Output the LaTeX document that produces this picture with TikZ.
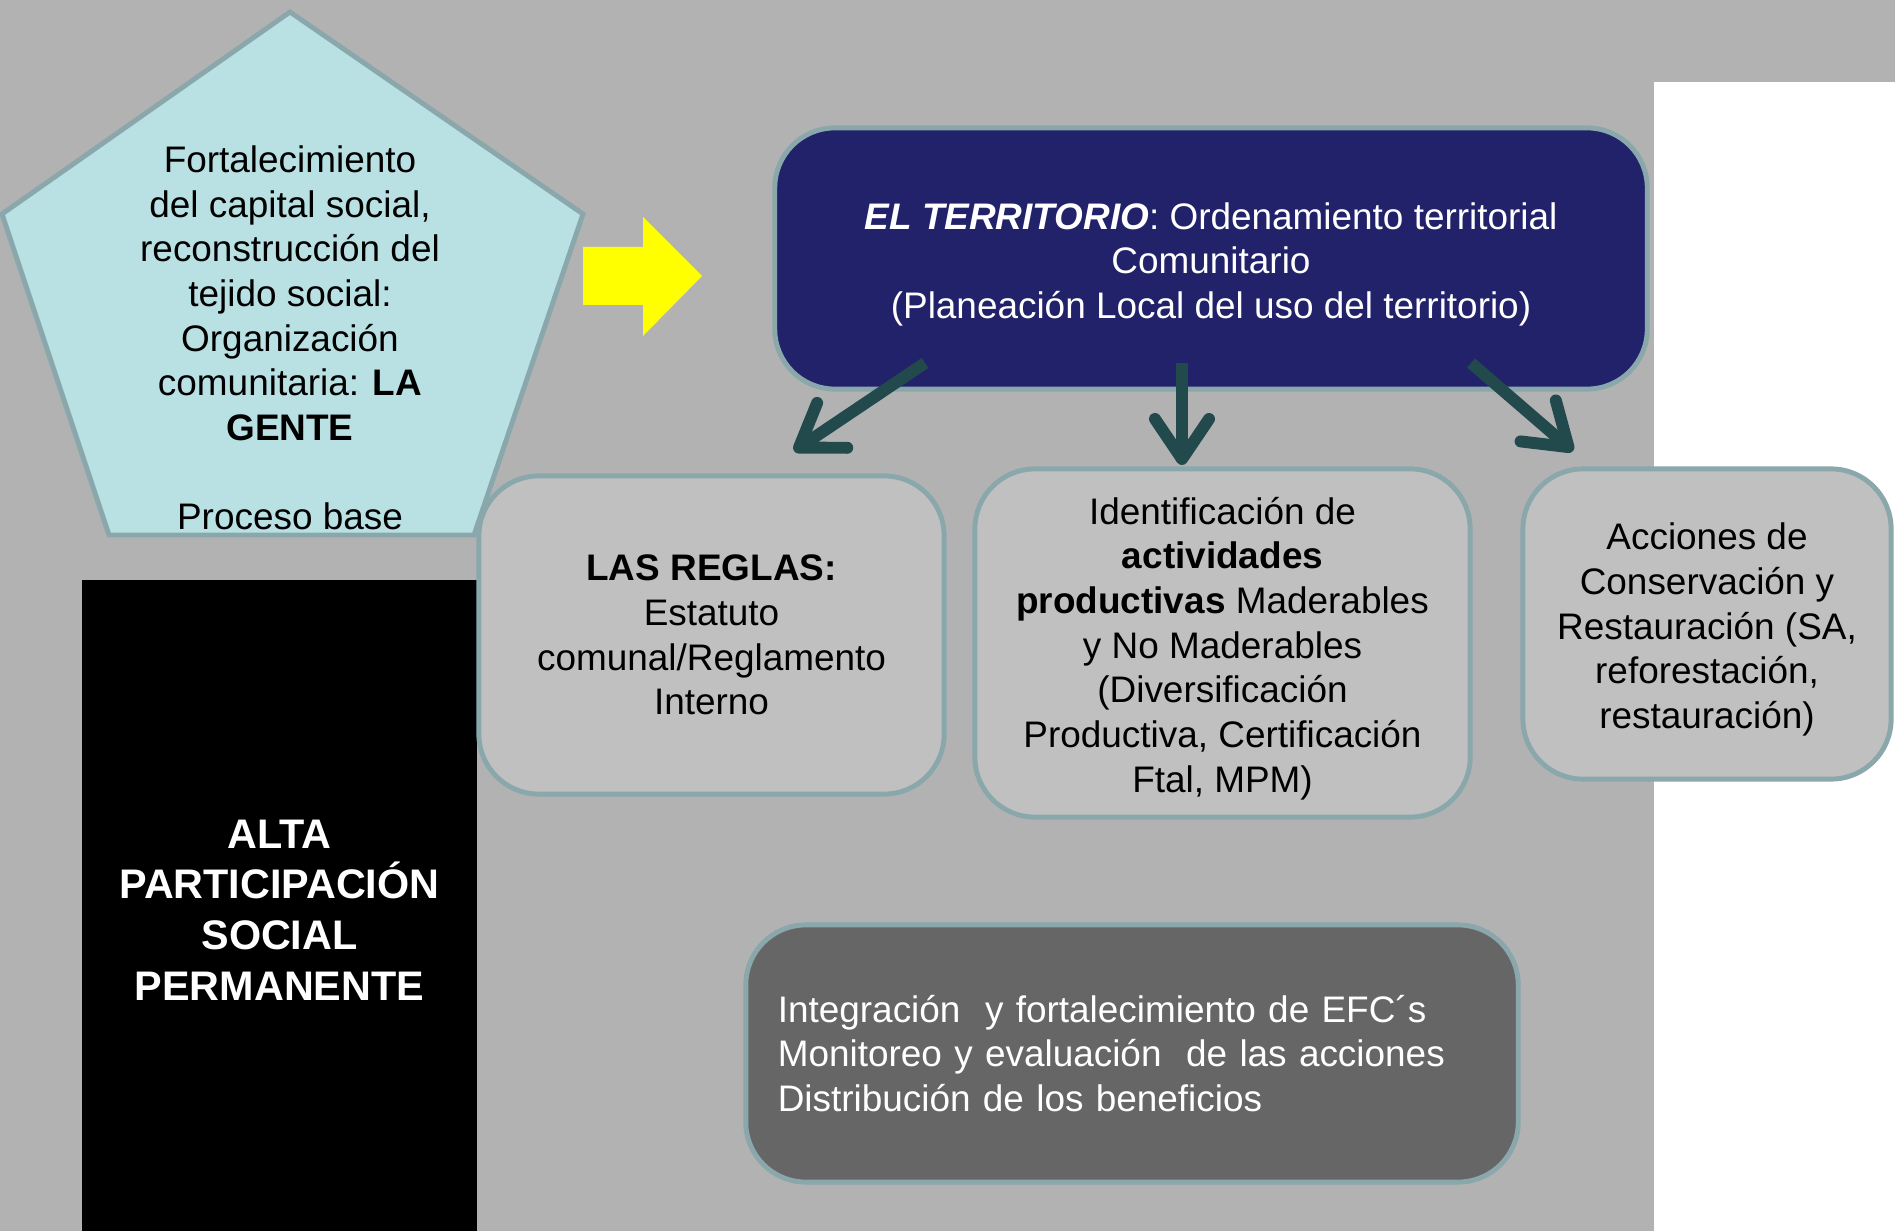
\documentclass[tikz,border=0pt]{standalone}
\usepackage{fontspec}
\setmainfont{Liberation Sans}
\usetikzlibrary{arrows.meta, positioning}
\definecolor{fondo}{HTML}{B2B2B2}
\definecolor{borde}{HTML}{8AA8AC}
\definecolor{celeste}{HTML}{B9E0E3}
\definecolor{marino}{HTML}{22226A}
\definecolor{cajagris}{HTML}{C0C0C0}
\definecolor{oscuro}{HTML}{666666}
\definecolor{flecha}{HTML}{224A4C}
\definecolor{amarillo}{HTML}{FFFF00}

\newcommand{\texto}{\fontsize{10.5}{12.7}\selectfont}
\newcommand{\arriba}{\rule{0pt}{10.8pt}}
\tikzset{
  caja/.style={draw=borde, line width=1.4pt, rounded corners=0.6cm, align=center, font=\texto},
  bajada/.style={draw=flecha, line width=3.4pt, -{Straight Barb[length=4mm, width=5.4mm, round]}}
}

\begin{document}
\begin{tikzpicture}[x=0.01cm, y=-0.01cm]
    % Fondo
    \useasboundingbox (0,0) rectangle (1895,1231);
    \fill[fondo] (0,0) rectangle (1895,1231);
    \fill[white] (1654,82) rectangle (1895,1231);
    % Pentagono : la gente
    \draw[fill=celeste, draw=borde, line width=1.4pt, line join=miter]
      (290,12) -- (583,214) -- (474,535) -- (109,535) -- (2,214) -- cycle;
    \node[align=center, font=\texto] (gente) at (290,338) {Fortalecimiento\\del capital social,\\reconstrucción del\\tejido social:\\Organización\\comunitaria: \textbf{LA}\\\textbf{GENTE}\\[12.7pt]Proceso base};
    % Flecha amarilla
    \fill[amarillo] (583,247) -- (643,247) -- (643,217) -- (702,276) -- (643,336) -- (643,305) -- (583,305) -- cycle;
    % Columna negra
    \node[fill=black, minimum width=3.95cm, minimum height=6.6cm, align=center, text=white,
      font=\fontsize{11.75}{14.45}\selectfont\bfseries] (participa) at (279.5,910)
      {ALTA\\PARTICIPACIÓN\\SOCIAL\\PERMANENTE};
    % Cajas
    \node[caja, fill=marino, text=white, minimum width=8.72cm, minimum height=2.61cm] (territorio) at (1211,258.5)
      {\arriba\textbf{\textit{EL TERRITORIO}}: Ordenamiento territorial\\Comunitario\\(Planeación Local del uso del territorio)};
    \node[caja, fill=cajagris, minimum width=4.65cm, minimum height=3.18cm] (reglas) at (711.5,635)
      {\textbf{LAS REGLAS:}\\Estatuto\\comunal/Reglamento\\Interno};
    \node[caja, fill=cajagris, minimum width=4.95cm, minimum height=3.48cm] (actividades) at (1222.5,643)
      {\arriba Identificación de\\\textbf{actividades}\\\textbf{productivas} Maderables\\y No Maderables\\(Diversificación\\Productiva, Certificación\\Ftal, MPM)};
    \node[caja, fill=cajagris, minimum width=3.68cm, minimum height=3.1cm] (acciones) at (1707,624)
      {\arriba Acciones de\\Conservación y\\Restauración (SA,\\reforestación,\\restauración)};
    \node[caja, fill=oscuro, text=white, align=left, text width=7.08cm, inner xsep=0.32cm,
      minimum height=2.57cm] (efc) at (1132,1053.5)
      {Integración\ \ y fortalecimiento de EFC´s\\Monitoreo y evaluación\ \ de las acciones\\Distribución de los beneficios};
    % Flechas
    \coordinate (sal1) at (925,363);
    \coordinate (lle1) at (794,451);
    \coordinate (sal2) at (1182,363);
    \coordinate (lle2) at (1182,465);
    \coordinate (sal3) at (1471,363);
    \coordinate (lle3) at (1573,451);
    \draw[bajada] (sal1) -- (lle1);
    \draw[bajada] (sal2) -- (lle2);
    \draw[bajada] (sal3) -- (lle3);
  \end{tikzpicture}
\end{document}
